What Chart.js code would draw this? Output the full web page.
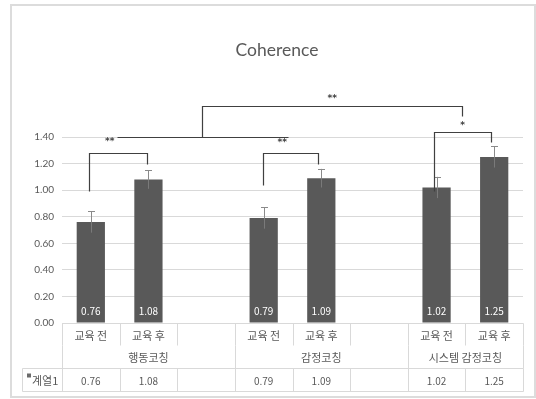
<!DOCTYPE html>
<html>
<head>
<meta charset="utf-8">
<script src="https://cdn.jsdelivr.net/npm/chart.js@4/dist/chart.umd.min.js"></script>
<style>
  html, body { margin: 0; padding: 0; background: #ffffff; }
  #wrap { width: 536px; height: 399px; }
</style>
</head>
<body>
<div id="wrap"><canvas id="c" width="536" height="399"></canvas></div>
<script>
// Category slots: before/after pairs, with a blank slot separating the coaching groups
const categories = ['교육 전', '교육 후', '', '교육 전', '교육 후', '', '교육 전', '교육 후'];
const groupNames = ['행동코칭', '감정코칭', '시스템 감정코칭'];
const groupSpans = [3, 3, 2];
const seriesName = '계열1';
const chartTitle = 'Coherence';
const coherence = [0.76, 1.08, null, 0.79, 1.09, null, 1.02, 1.25];
const errorMargins = [0.08, 0.07, null, 0.08, 0.07, null, 0.08, 0.08];
const yTicks = { min: 0, max: 1.4, step: 0.2 };

// Significance brackets, in data units (x = category index, y = axis value)
const brackets = [
  { legs: [[-0.03, 0.99], [0.975, 1.20]], top: 1.28, mark: '**', markAt: [0.33, 1.365] },
  { legs: [[2.99, 1.035], [3.94, 1.20]], top: 1.28, mark: '**', markAt: [3.32, 1.36] },
  { legs: [[5.96, 0.99], [6.95, 1.36]], top: 1.44, mark: '*', markAt: [6.45, 1.485] }
];
const spanBracket = { low: [0.45, 3.43, 1.40], stem: 1.93, top: 1.63, end: [6.45, 1.56], mark: '**', markAt: [4.19, 1.69] };

const TEXT = '#595959';
const LINE = '#d9d9d9';
const INK = '#404040';
const KFONT = '"Noto Sans CJK KR", "Noto Sans", sans-serif';

const framePlugin = {
  id: 'frame',
  beforeDraw(chart) {
    const ctx = chart.ctx;
    ctx.save();
    ctx.fillStyle = '#ffffff';
    ctx.fillRect(0, 0, chart.width, chart.height);
    ctx.strokeStyle = '#dcdcdc';
    ctx.lineWidth = 2;
    ctx.strokeRect(11, 5, 524, 392);
    // chart title, centred over the plot
    ctx.fillStyle = TEXT;
    ctx.font = '17.5px Lato, "Open Sans", sans-serif';
    ctx.textAlign = 'center';
    ctx.textBaseline = 'middle';
    ctx.fillText(chartTitle, 277, 50);
    ctx.restore();
  }
};

const errorBarPlugin = {
  id: 'errorBars',
  afterDatasetsDraw(chart) {
    const ctx = chart.ctx;
    const y = chart.scales.y;
    const meta = chart.getDatasetMeta(0);
    ctx.save();
    coherence.forEach((v, i) => {
      if (v === null) return;
      const bar = meta.data[i];
      const x = Math.round(bar.x) + 0.5;
      const yTop = y.getPixelForValue(v + errorMargins[i]);
      const yLow = y.getPixelForValue(v - errorMargins[i]);
      ctx.lineWidth = 1;
      ctx.strokeStyle = '#7a7a7a';
      ctx.beginPath();
      ctx.moveTo(x, bar.y);
      ctx.lineTo(x, yLow);
      ctx.stroke();
      ctx.strokeStyle = '#8a8a8a';
      ctx.beginPath();
      ctx.moveTo(x, bar.y);
      ctx.lineTo(x, yTop);
      ctx.moveTo(x - 3.5, Math.round(yTop) + 0.5);
      ctx.lineTo(x + 3.5, Math.round(yTop) + 0.5);
      ctx.stroke();
    });
    ctx.restore();
  }
};

const valueLabelPlugin = {
  id: 'valueLabels',
  afterDatasetsDraw(chart) {
    const ctx = chart.ctx;
    const meta = chart.getDatasetMeta(0);
    ctx.save();
    ctx.fillStyle = '#ffffff';
    ctx.font = '10px ' + KFONT;
    ctx.textAlign = 'center';
    ctx.textBaseline = 'middle';
    coherence.forEach((v, i) => {
      if (v === null) return;
      const bar = meta.data[i];
      ctx.fillText(v.toFixed(2), bar.x, bar.base - 11);
    });
    ctx.restore();
  }
};

const bracketPlugin = {
  id: 'brackets',
  afterDraw(chart) {
    const ctx = chart.ctx;
    const xs = chart.scales.x, ys = chart.scales.y;
    const px = v => Math.round(xs.getPixelForValue(v)) + 0.5;
    const py = v => Math.round(ys.getPixelForValue(v)) + 0.5;
    ctx.save();
    ctx.strokeStyle = INK;
    ctx.lineWidth = 1.2;
    ctx.fillStyle = INK;
    ctx.font = 'bold 9px "DejaVu Sans", sans-serif';
    ctx.textAlign = 'center';
    ctx.textBaseline = 'middle';
    brackets.forEach(b => {
      const [l, r] = b.legs;
      ctx.beginPath();
      ctx.moveTo(px(l[0]), py(l[1]));
      ctx.lineTo(px(l[0]), py(b.top));
      ctx.lineTo(px(r[0]), py(b.top));
      ctx.lineTo(px(r[0]), py(r[1]));
      ctx.stroke();
      ctx.fillText(b.mark, xs.getPixelForValue(b.markAt[0]), ys.getPixelForValue(b.markAt[1]));
    });
    const s = spanBracket;
    ctx.beginPath();
    ctx.moveTo(px(s.low[0]), py(s.low[2]));
    ctx.lineTo(px(s.low[1]), py(s.low[2]));
    ctx.moveTo(px(s.stem), py(s.low[2]));
    ctx.lineTo(px(s.stem), py(s.top));
    ctx.lineTo(px(s.end[0]), py(s.top));
    ctx.lineTo(px(s.end[0]), py(s.end[1]));
    ctx.stroke();
    ctx.fillText(s.mark, xs.getPixelForValue(s.markAt[0]), ys.getPixelForValue(s.markAt[1]));
    ctx.restore();
  }
};

// Excel-style data table under the plot: category row, group row, values row
const dataTablePlugin = {
  id: 'dataTable',
  afterDraw(chart) {
    const ctx = chart.ctx;
    const xs = chart.scales.x;
    const area = chart.chartArea;
    const n = categories.length;
    const w = (area.right - area.left) / n;
    const edge = i => Math.round(area.left + i * w) + 0.5;
    const top = Math.round(area.bottom) + 0.5;
    const row1 = top + 22, row2 = row1 + 23, row3 = row2 + 23;
    const keyLeft = 22.5;

    ctx.save();
    ctx.strokeStyle = LINE;
    ctx.lineWidth = 1;
    ctx.beginPath();
    // horizontal rules
    ctx.moveTo(edge(0), top); ctx.lineTo(edge(n), top);
    ctx.moveTo(keyLeft, row2); ctx.lineTo(edge(n), row2);
    ctx.moveTo(keyLeft, row3); ctx.lineTo(edge(n), row3);
    ctx.moveTo(keyLeft, row2); ctx.lineTo(keyLeft, row3);
    // vertical rules for every slot in the category and value rows
    for (let i = 0; i <= n; i++) {
      ctx.moveTo(edge(i), top); ctx.lineTo(edge(i), row1);
      ctx.moveTo(edge(i), row2); ctx.lineTo(edge(i), row3);
    }
    // group boundaries through the group row
    let acc = 0;
    const bounds = [0];
    groupSpans.forEach(s => { acc += s; bounds.push(acc); });
    bounds.forEach(b => { ctx.moveTo(edge(b), row1); ctx.lineTo(edge(b), row2); });
    ctx.stroke();

    ctx.fillStyle = TEXT;
    ctx.textAlign = 'center';
    ctx.textBaseline = 'middle';
    ctx.font = '11px ' + KFONT;
    categories.forEach((c, i) => {
      if (c) ctx.fillText(c, xs.getPixelForValue(i), (top + row1) / 2 + 1);
    });
    let start = 0;
    groupNames.forEach((g, k) => {
      const mid = (xs.getPixelForValue(start) + xs.getPixelForValue(start + groupSpans[k] - 1)) / 2;
      ctx.fillText(g, mid, (row1 + row2) / 2 + 1);
      start += groupSpans[k];
    });
    ctx.font = '10px ' + KFONT;
    coherence.forEach((v, i) => {
      if (v !== null) ctx.fillText(v.toFixed(2), xs.getPixelForValue(i), (row2 + row3) / 2 + 1);
    });
    // series key
    ctx.fillStyle = '#6b6b6b';
    ctx.fillRect(27, row2 + 5, 4, 4);
    ctx.fillStyle = TEXT;
    ctx.textAlign = 'left';
    ctx.font = '11px ' + KFONT;
    ctx.fillText(seriesName, 32, (row2 + row3) / 2 + 1);
    ctx.restore();
  }
};

new Chart(document.getElementById('c'), {
  type: 'bar',
  data: {
    labels: categories,
    datasets: [{
      label: seriesName,
      data: coherence,
      backgroundColor: '#595959',
      barPercentage: 0.49,
      categoryPercentage: 1.0
    }]
  },
  options: {
    responsive: false,
    animation: false,
    layout: { padding: { left: 0, right: 13, top: 137, bottom: 76 } },
    plugins: {
      legend: { display: false },
      tooltip: { enabled: false },
      title: { display: false }
    },
    scales: {
      x: { display: false },
      y: {
        min: yTicks.min,
        max: yTicks.max,
        afterFit(scale) { scale.width = 62; },
        border: { display: false },
        grid: { color: LINE, drawTicks: false },
        ticks: {
          stepSize: yTicks.step,
          padding: 8,
          color: TEXT,
          font: { family: 'Lato, "Open Sans", sans-serif', size: 10 },
          callback: v => Number(v).toFixed(2)
        }
      }
    }
  },
  plugins: [framePlugin, errorBarPlugin, valueLabelPlugin, bracketPlugin, dataTablePlugin]
});
</script>
</body>
</html>
